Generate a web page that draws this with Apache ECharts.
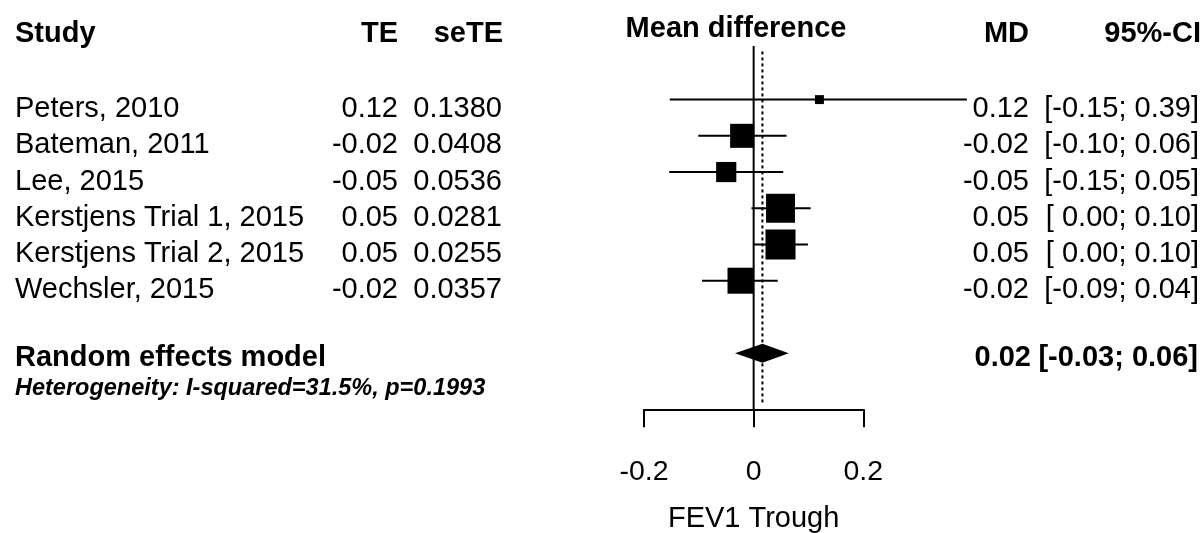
<!DOCTYPE html>
<html>
<head>
<meta charset="utf-8">
<script src="https://cdn.jsdelivr.net/npm/echarts@6/dist/echarts.min.js"></script>
<style>
  html, body { margin: 0; padding: 0; background: #fff; }
  #main { width: 1204px; height: 533px; }
</style>
</head>
<body>
<div id="main"></div>
<script>
// forest plot data
var studies = ['Peters, 2010', 'Bateman, 2011', 'Lee, 2015', 'Kerstjens Trial 1, 2015', 'Kerstjens Trial 2, 2015', 'Wechsler, 2015'];
var te = [0.12, -0.021, -0.05, 0.049, 0.049, -0.024];
var seTE = [0.1380, 0.0408, 0.0536, 0.0281, 0.0255, 0.0357];
var ciLower = [-0.153, -0.101, -0.154, -0.004, 0.0, -0.094];
var ciUpper = [0.389, 0.060, 0.054, 0.104, 0.099, 0.044];
var weights = [2.3, 16.6, 11.7, 24.1, 25.9, 19.4];

var randomTE = 0.016;
var randomLower = -0.034;
var randomUpper = 0.064;
var hetI2 = '31.5%';
var hetP = '0.1993';
var pooledRow = 7;

var xTicks = [-0.2, 0, 0.2];

var FONT = '"Liberation Sans", Arial, Helvetica, sans-serif';

function fmt(v) {
    var s = (Math.abs(v) < 0.005 ? 0 : v).toFixed(2);
    return s;
}
function fmtCI(lo, hi) {
    var l = fmt(lo);
    if (l.charAt(0) !== '-') l = ' ' + l;
    return '[' + l + '; ' + fmt(hi) + ']';
}

function txt(x, y, s, align, opts) {
    opts = opts || {};
    return {
        type: 'text',
        style: {
            x: x, y: y, text: s,
            fill: '#000',
            fontFamily: FONT,
            fontSize: opts.size || 29,
            fontWeight: opts.bold ? 'bold' : 'normal',
            fontStyle: opts.italic ? 'italic' : 'normal',
            align: align,
            verticalAlign: 'middle'
        }
    };
}

var rowData = [];
for (var i = 0; i < studies.length; i++) {
    rowData.push([te[i], i, ciLower[i], ciUpper[i], weights[i]]);
}

var myChart = echarts.init(document.getElementById('main'), null, {renderer: 'canvas'});

var option = {
    animation: false,
    backgroundColor: '#fff',
    grid: {left: 644, right: 340.7, top: 46, bottom: 123.7, outerBoundsMode: 'none'},
    xAxis: {
        type: 'value',
        min: -0.2,
        max: 0.2,
        interval: 0.2,
        splitLine: {show: false},
        axisLine: {onZero: false, lineStyle: {color: '#000', width: 2}},
        axisTick: {length: 18, lineStyle: {color: '#000', width: 2}},
        axisLabel: {
            margin: 49, color: '#000', fontFamily: FONT, fontSize: 28.5, lineHeight: 28,
            formatter: function (v) { return xTicks.indexOf(v) >= 0 ? String(v) : ''; }
        },
        name: 'FEV1 Trough',
        nameLocation: 'middle',
        nameGap: 96,
        nameTextStyle: {color: '#000', fontFamily: FONT, fontSize: 29, lineHeight: 28}
    },
    yAxis: {
        type: 'value',
        inverse: true,
        min: -1.48,
        max: 8.55,
        show: false
    },
    graphic: [
        txt(15, 33.5, 'Study', 'left', {bold: true}),
        txt(398, 33.5, 'TE', 'right', {bold: true}),
        txt(503, 33.5, 'seTE', 'right', {bold: true}),
        txt(736, 28.5, 'Mean difference', 'center', {bold: true}),
        txt(1029, 33.5, 'MD', 'right', {bold: true}),
        txt(1201, 33.5, '95%-CI', 'right', {bold: true})
    ],
    series: [
        {
            // reference lines: no effect and pooled estimate
            type: 'custom',
            clip: false,
            silent: true,
            data: [[0, -1.48, 8.55, 0], [randomTE, -1.33, 8.36, 1]],
            renderItem: function (params, api) {
                var a = api.coord([api.value(0), api.value(1)]);
                var b = api.coord([api.value(0), api.value(2)]);
                var dotted = api.value(3) === 1;
                return {
                    type: 'line',
                    shape: {x1: a[0], y1: a[1], x2: b[0], y2: b[1]},
                    style: {stroke: '#000', lineWidth: 2, lineDash: dotted ? [3, 3] : null}
                };
            }
        },
        {
            // individual studies
            type: 'custom',
            clip: false,
            silent: true,
            data: rowData,
            renderItem: function (params, api) {
                var idx = params.dataIndex;
                var c = api.coord([api.value(0), api.value(1)]);
                var lo = api.coord([api.value(2), api.value(1)]);
                var hi = api.coord([api.value(3), api.value(1)]);
                var size = 5.9 * Math.sqrt(api.value(4));
                var ty = c[1] + 9.5;
                return {
                    type: 'group',
                    children: [
                        {type: 'line', shape: {x1: lo[0], y1: c[1], x2: hi[0], y2: c[1]},
                            style: {stroke: '#000', lineWidth: 2}},
                        {type: 'rect', shape: {x: c[0] - size / 2, y: c[1] - size / 2, width: size, height: size},
                            style: {fill: '#000'}},
                        txt(15, ty, studies[idx], 'left'),
                        txt(398, ty, te[idx].toFixed(2), 'right'),
                        txt(502, ty, seTE[idx].toFixed(4), 'right'),
                        txt(1029, ty, fmt(te[idx]), 'right'),
                        txt(1199, ty, fmtCI(ciLower[idx], ciUpper[idx]), 'right')
                    ]
                };
            }
        },
        {
            // random effects model
            type: 'custom',
            clip: false,
            silent: true,
            data: [[randomTE, pooledRow, randomLower, randomUpper]],
            renderItem: function (params, api) {
                var r = api.value(1);
                var c = api.coord([api.value(0), r]);
                var lo = api.coord([api.value(2), r]);
                var hi = api.coord([api.value(3), r]);
                var h = 9.5;
                var ty = c[1] + 4.5;
                return {
                    type: 'group',
                    children: [
                        {type: 'polygon', shape: {points: [[lo[0], c[1]], [c[0], c[1] - h], [hi[0], c[1]], [c[0], c[1] + h]]},
                            style: {fill: '#000'}},
                        txt(15, ty, 'Random effects model', 'left', {bold: true}),
                        txt(15, c[1] + 35.5, 'Heterogeneity: I-squared=' + hetI2 + ', p=' + hetP, 'left',
                            {bold: true, italic: true, size: 23.5}),
                        txt(1031, ty, fmt(randomTE), 'right', {bold: true}),
                        txt(1198, ty, fmtCI(randomLower, randomUpper), 'right', {bold: true})
                    ]
                };
            }
        }
    ]
};

myChart.setOption(option);
</script>
</body>
</html>
